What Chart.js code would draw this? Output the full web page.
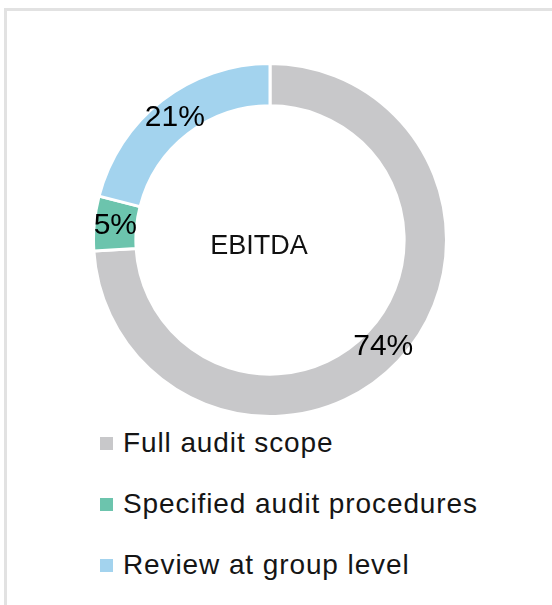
<!DOCTYPE html>
<html>
<head>
<meta charset="utf-8">
<script src="https://cdn.jsdelivr.net/npm/chart.js@4"></script>
<style>
  html, body { margin: 0; padding: 0; background: #fff; }
  body { width: 552px; height: 605px; position: relative; overflow: hidden; font-family: "Liberation Sans", Arial, sans-serif; }
  .frame { position: absolute; left: 4px; top: 8px; width: 560px; height: 610px; border-left: 3px solid #e2e2e2; border-top: 3px solid #e2e2e2; }
  .chart-box { position: absolute; left: 92px; top: 62px; width: 356px; height: 356px; }
  .center-label { position: absolute; left: 195px; top: 228px; width: 128px; text-align: center; font-size: 27px; color: #111; line-height: 34px; }
  .legend { position: absolute; left: 100px; top: 423px; }
  .legend-item { height: 61px; display: flex; align-items: flex-start; }
  .legend-item .box { width: 13px; height: 13px; margin-top: 14px; margin-right: 10px; }
  .legend-item span { font-size: 28px; letter-spacing: 0.9px; color: #151515; line-height: 40px; }
</style>
</head>
<body>
<div class="frame"></div>
<div class="chart-box"><canvas id="donut"></canvas></div>
<div class="center-label" id="centerLabel"></div>
<div class="legend" id="legend"></div>

<script>
  // dados do gráfico
  const categories = ['Full audit scope', 'Specified audit procedures', 'Review at group level'];
  const shares = [74, 5, 21];
  const colors = ['#c8c8ca', '#6cc4ad', '#a3d3ee'];
  const centerText = 'EBITDA';

  document.getElementById('centerLabel').textContent = centerText;

  // legenda vertical em HTML
  const legend = document.getElementById('legend');
  categories.forEach((cat, i) => {
    const row = document.createElement('div');
    row.className = 'legend-item';
    const box = document.createElement('div');
    box.className = 'box';
    box.style.background = colors[i];
    const txt = document.createElement('span');
    txt.textContent = cat;
    row.appendChild(box);
    row.appendChild(txt);
    legend.appendChild(row);
  });

  // rótulos de porcentagem dentro do anel
  const sliceLabels = {
    id: 'sliceLabels',
    afterDatasetsDraw(chart) {
      const ctx = chart.ctx;
      const meta = chart.getDatasetMeta(0);
      ctx.save();
      ctx.font = '30px "Liberation Sans", Arial, sans-serif';
      ctx.fillStyle = '#000';
      ctx.textAlign = 'center';
      ctx.textBaseline = 'middle';
      meta.data.forEach((arc, i) => {
        const pos = arc.tooltipPosition();
        ctx.fillText(shares[i] + '%', pos.x, pos.y);
      });
      ctx.restore();
    }
  };

  new Chart(document.getElementById('donut'), {
    type: 'doughnut',
    data: {
      labels: categories,
      datasets: [{
        data: shares,
        backgroundColor: colors,
        borderColor: '#ffffff',
        borderWidth: 3,
        hoverOffset: 0
      }]
    },
    options: {
      responsive: true,
      maintainAspectRatio: false,
      animation: false,
      cutout: '76%',
      layout: { padding: 0 },
      plugins: {
        legend: { display: false },
        tooltip: { enabled: false }
      }
    },
    plugins: [sliceLabels]
  });
</script>
</body>
</html>
